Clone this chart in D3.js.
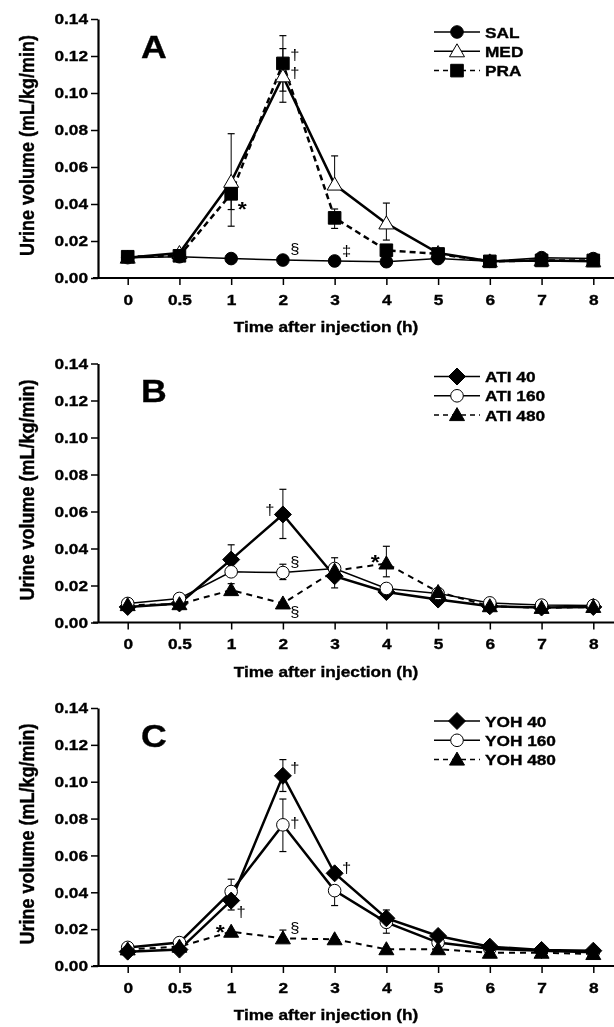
<!DOCTYPE html>
<html><head><meta charset="utf-8">
<script src="https://cdn.jsdelivr.net/npm/d3@7"></script>
<style>html,body{margin:0;padding:0;background:#fff;}svg{display:block;will-change:transform;}
svg text.b{stroke:#000;stroke-width:0.35px;}</style>
</head><body>
<script>
// ---------- data ----------
const timeLabels = ["0","0.5","1","2","3","4","5","6","7","8"];
const yTickValues = [0,0.02,0.04,0.06,0.08,0.10,0.12,0.14];
const yLabel = "Urine volume (mL/kg/min)";
const xLabel = "Time after injection (h)";

// Panel A
const salA  = [0.011,0.0115,0.0105,0.0097,0.0092,0.0088,0.0105,0.009,0.011,0.0105];
const medA  = [0.011,0.0135,0.052,0.109,0.0505,0.0295,0.0135,0.009,0.0095,0.009];
const praA  = [0.0115,0.012,0.0455,0.116,0.0325,0.015,0.013,0.009,0.0095,0.0095];
const medAHi = [null,null,0.078,0.124,0.066,0.0405,null,null,null,null];
const medALo = [null,null,0.037,0.095,null,0.0205,null,null,null,null];
const praAHi = [null,null,null,0.131,0.0373,null,null,null,null,null];
const praALo = [null,null,0.028,0.101,0.0268,null,null,null,null,null];

// Panel B
const ati40  = [0.0084,0.0103,0.034,0.0584,0.025,0.0165,0.0124,0.0088,0.0081,0.0084];
const ati160 = [0.0103,0.013,0.0274,0.027,0.0292,0.0184,0.0157,0.0106,0.0094,0.0092];
const ati480 = [0.0094,0.0099,0.0175,0.0103,0.028,0.0319,0.0165,0.0088,0.0079,0.0084];
const ati40Hi  = [null,null,0.042,0.072,null,null,null,null,null,null];
const ati40Lo  = [null,null,null,0.0454,0.0187,null,null,null,null,null];
const ati160Hi = [null,null,null,0.0315,0.035,null,null,null,null,null];
const ati160Lo = [null,null,null,0.0232,null,null,null,null,null,null];
const ati480Hi = [null,null,0.021,null,null,0.0412,null,null,null,null];
const ati480Lo = [null,null,null,null,null,0.0247,null,null,null,null];

// Panel C
const yoh40  = [0.0078,0.0089,0.0355,0.1032,0.0503,0.0259,0.0163,0.0105,0.0087,0.0083];
const yoh160 = [0.0101,0.0127,0.0404,0.0766,0.0409,0.0237,0.0127,0.0094,0.0083,0.0074];
const yoh480 = [0.009,0.0105,0.0186,0.015,0.0145,0.0091,0.0091,0.0072,0.0072,0.0065];
const yoh40Hi  = [null,null,null,0.112,null,0.0304,null,null,null,null];
const yoh40Lo  = [null,null,0.0304,0.0947,null,null,null,null,null,null];
const yoh160Hi = [null,null,0.0471,0.0906,null,null,null,null,null,null];
const yoh160Lo = [null,null,null,0.0621,0.0328,0.0178,null,null,null,null];
const yoh480Hi = [null,null,null,0.0195,null,null,null,null,null,null];

// annotations: [symbol, category, value]
const annA = [["†","2",0.1205],["†","2",0.1107],["*","1",0.040],["§","2",0.0157],["‡","3",0.0147]];
const annB = [["†","2",0.0607],["§","2",0.0326],["§","2",0.0056],["*","4",0.0353]];
const annC = [["†","2",0.1076],["†","2",0.0777],["†","1",0.0293],["*","1",0.0212],["§","2",0.0206],["†","3",0.0532]];

// ---------- drawing ----------
const W = 614, H = 1027;
const FONT = "'Liberation Sans', Arial, Helvetica, sans-serif";
const SX = 1.15; // horizontal stretch of text
const svg = d3.select("body").append("svg").attr("width", W).attr("height", H)
  .style("font-family", FONT);

const x = d3.scalePoint().domain(timeLabels).range([127.7, 593.3]);
const AXIS_X = 98;

function stretch(sel, k) {
  sel.each(function () {
    const len = this.getComputedTextLength();
    d3.select(this).attr("textLength", len * k).attr("lengthAdjust", "spacingAndGlyphs");
  });
}

function markerPath(shape) {
  switch (shape) {
    case "circle": return d3.symbol().type(d3.symbolCircle).size(Math.PI*6.3*6.3)();
    case "square": return "M-6.3,-6.3H6.3V6.3H-6.3Z";
    case "triangle": return "M0,-7.5L7.5,5.5L-7.5,5.5Z";
    case "diamond": return "M0,-8.5L8.5,0L0,8.5L-8.5,0Z";
  }
}

function drawMarker(g, shape, fill, cx, cy) {
  g.append("path").attr("d", markerPath(shape))
    .attr("transform", `translate(${cx},${cy})`)
    .attr("fill", fill === "open" ? "#fff" : "#000")
    .attr("stroke", "#000").attr("stroke-width", 1);
}

function drawPanel(p) {
  const y = d3.scaleLinear().domain([0, 0.14]).range([p.bottom, p.top]);
  const g = svg.append("g");

  // y axis
  const ya = g.append("g").attr("transform", `translate(${AXIS_X},0)`)
    .call(d3.axisLeft(y).tickValues(yTickValues).tickFormat(d3.format(".2f"))
      .tickSize(7).tickPadding(3).tickSizeOuter(0));
  ya.select(".domain").attr("stroke-width", 2.2);
  ya.selectAll(".tick line").attr("stroke-width", 1.5);
  ya.selectAll("text").attr("class", "b").attr("font-size", 15).attr("font-weight", "bold")
    .attr("font-family", FONT).attr("fill", "#000").call(stretch, SX);

  // x axis
  const xa = g.append("g").attr("transform", `translate(0,${p.bottom})`)
    .call(d3.axisBottom(x).tickSize(7).tickPadding(9).tickSizeOuter(0));
  xa.select(".domain").remove();
  xa.selectAll(".tick line").attr("stroke-width", 1.5);
  xa.selectAll("text").attr("class", "b").attr("font-size", 15).attr("font-weight", "bold")
    .attr("font-family", FONT).attr("fill", "#000").call(stretch, SX);
  g.append("line").attr("x1", AXIS_X - 5).attr("x2", W).attr("y1", p.bottom).attr("y2", p.bottom)
    .attr("stroke", "#000").attr("stroke-width", 2.2);

  // axis titles
  g.append("text").attr("class", "b").attr("x", 326).attr("y", p.bottom + 54)
    .attr("text-anchor", "middle").attr("font-size", 15).attr("font-weight", "bold")
    .text(xLabel).call(stretch, SX);
  g.append("text").attr("class", "b")
    .attr("transform", `translate(34,${(p.top + p.bottom) / 2 - 3}) rotate(-90) scale(1,${SX})`)
    .attr("text-anchor", "middle").attr("font-size", 18).attr("font-weight", "bold")
    .text(yLabel);

  // panel letter
  g.append("text").attr("class", "b").attr("x", 141).attr("y", p.top + 38.5)
    .attr("font-size", 31).attr("font-weight", "bold").text(p.letter).call(stretch, SX);

  // series lines
  p.series.forEach(s => {
    const line = d3.line().x((d, i) => x(timeLabels[i])).y(d => y(d));
    g.append("path").datum(s.values).attr("d", line).attr("fill", "none")
      .attr("stroke", "#000").attr("stroke-width", s.width)
      .attr("stroke-dasharray", s.dash || null);
  });
  // error bars
  p.series.forEach(s => {
    [s.hi, s.lo].forEach(arr => {
      if (!arr) return;
      arr.forEach((e, i) => {
        if (e == null) return;
        const cx = x(timeLabels[i]);
        g.append("line").attr("x1", cx).attr("x2", cx).attr("y1", y(s.values[i])).attr("y2", y(e))
          .attr("stroke", "#000").attr("stroke-width", 1);
        g.append("line").attr("x1", cx - 3.5).attr("x2", cx + 3.5).attr("y1", y(e)).attr("y2", y(e))
          .attr("stroke", "#000").attr("stroke-width", 1.2);
      });
    });
  });
  // markers
  p.series.forEach(s => {
    s.values.forEach((v, i) => drawMarker(g, s.shape, s.fill, x(timeLabels[i]), y(v)));
  });

  // annotations
  p.ann.forEach(([sym, cat, v]) => {
    const side = sym === "*" ? (cat === "4" || (p.letter === "C" && cat === "1") ? -1 : 1) : 1;
    let dx = 12;
    if (p.letter === "B" && sym === "†") dx = -13;
    if (p.letter === "C" && sym === "†" && cat === "1") dx = 10;
    if (sym === "*") dx = side * 11;
    const isStar = sym === "*";
    g.append("text")
      .attr("x", x(cat) + dx).attr("y", y(v) + (isStar ? 12 : 5))
      .attr("text-anchor", "middle").attr("fill", "#000")
      .attr("font-size", isStar ? 21 : 15).attr("font-weight", isStar ? "bold" : "normal")
      .text(sym).call(stretch, 1.1);
  });

  // legend
  const lg = g.append("g");
  p.series.slice().sort((a, b) => a.legendRow - b.legendRow).forEach((s, k) => {
    const ly = p.top + 13 + k * 19.3;
    lg.append("line").attr("x1", 434).attr("x2", 480).attr("y1", ly).attr("y2", ly)
      .attr("stroke", "#000").attr("stroke-width", 1.5)
      .attr("stroke-dasharray", s.dash ? "5,4" : null);
    drawMarker(lg, s.shape, s.fill, 457, ly);
    lg.append("text").attr("class", "b").attr("x", 485).attr("y", ly + 5.5).attr("font-size", 15)
      .attr("font-weight", "bold").text(s.name).call(stretch, SX);
  });
}

const panels = [
  { letter: "A", top: 19, bottom: 278, ann: annA, series: [
    { name: "SAL", values: salA, shape: "circle", fill: "solid", width: 1.5, legendRow: 0 },
    { name: "MED", values: medA, hi: medAHi, lo: medALo, shape: "triangle", fill: "open", width: 2.5, legendRow: 1 },
    { name: "PRA", values: praA, hi: praAHi, lo: praALo, shape: "square", fill: "solid", width: 2.5, dash: "6,4", legendRow: 2 }
  ]},
  { letter: "B", top: 363.5, bottom: 622.5, ann: annB, series: [
    { name: "ATI 40", values: ati40, hi: ati40Hi, lo: ati40Lo, shape: "diamond", fill: "solid", width: 2.5, legendRow: 0 },
    { name: "ATI 160", values: ati160, hi: ati160Hi, lo: ati160Lo, shape: "circle", fill: "open", width: 1.5, legendRow: 1 },
    { name: "ATI 480", values: ati480, hi: ati480Hi, lo: ati480Lo, shape: "triangle", fill: "solid", width: 2, dash: "6,5", legendRow: 2 }
  ]},
  { letter: "C", top: 708, bottom: 966, ann: annC, series: [
    { name: "YOH 160", values: yoh160, hi: yoh160Hi, lo: yoh160Lo, shape: "circle", fill: "open", width: 2.5, legendRow: 1 },
    { name: "YOH 40", values: yoh40, hi: yoh40Hi, lo: yoh40Lo, shape: "diamond", fill: "solid", width: 2.5, legendRow: 0 },
    { name: "YOH 480", values: yoh480, hi: yoh480Hi, shape: "triangle", fill: "solid", width: 2, dash: "6,5", legendRow: 2 }
  ]}
];
panels.forEach(drawPanel);
</script>
</body></html>
